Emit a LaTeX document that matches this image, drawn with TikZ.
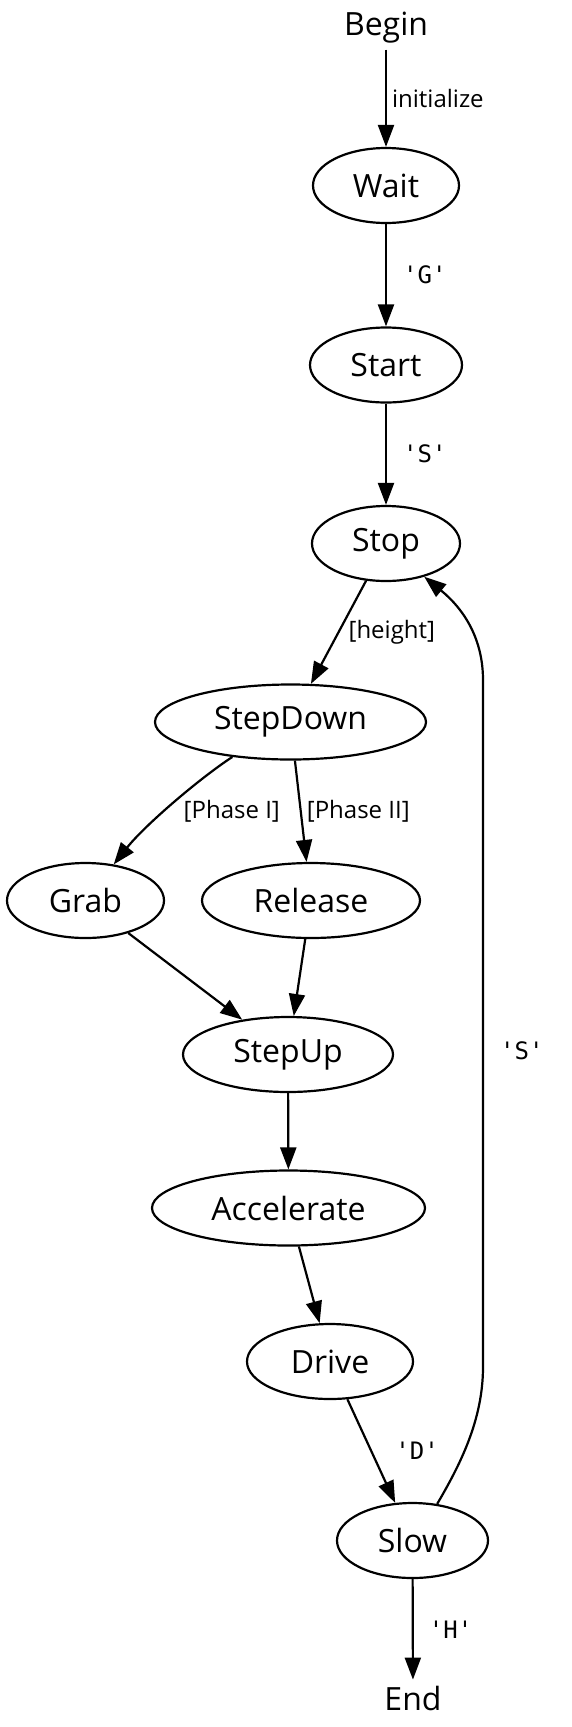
\documentclass[tikz,border=0pt]{standalone}
\usepackage{fontspec}
\setmainfont{Open Sans}
\setmonofont{DejaVu Sans Mono}
\usetikzlibrary{arrows.meta}
\usetikzlibrary{shapes.geometric}
\tikzstyle{every node}=[inner sep=0pt, font=\fontsize{32}{38}\selectfont]
\tikzstyle{state}=[ellipse, draw, minimum height=75pt]
\tikzstyle{plain}=[inner sep=5pt]
\tikzstyle{lbl}=[font=\fontsize{24}{29}\selectfont]
\tikzstyle{chr}=[font=\ttfamily\fontsize{24}{29}\selectfont]
\tikzset{edge/.style={-{Triangle[length=22pt,width=16pt]}}}

\begin{document}
\begin{tikzpicture}[x=1pt,y=-1pt,line width=2.2pt]
		\useasboundingbox (0,0) rectangle (572,1727);
		\node[plain] (begin) at (386,28) {Begin};
		\node[state, minimum width=146pt] (wait) at (386,185.5) {Wait};
		\node[state, minimum width=152pt] (start) at (386,365) {Start};
		\node[state, minimum width=148pt] (stop) at (386,543.5) {Stop};
		\node[state, minimum width=271pt] (stepdown) at (290.5,722) {StepDown};
		\node[state, minimum width=157pt] (grab) at (85.5,900.5) {Grab};
		\node[state, minimum width=218pt] (release) at (311,900.5) {Release};
		\node[state, minimum width=210pt] (stepup) at (288,1054.5) {StepUp};
		\node[state, minimum width=273pt] (accel) at (288.5,1208) {Accelerate};
		\node[state, minimum width=166pt] (drive) at (330,1361.5) {Drive};
		\node[state, minimum width=151pt] (slow) at (412.5,1540.5) {Slow};
		\node[plain] (end) at (413,1698) {End};

		\draw[edge] (begin) -- node[lbl, right=5pt] {initialize} (wait);
		\draw[edge] (wait) -- node[chr, right=16pt] {'G'} (start);
		\draw[edge] (start) -- node[chr, right=16pt] {'S'} (stop);
		\draw[edge] (stop) -- node[lbl, right=9pt] {[height]} (stepdown);
		\draw[edge] (stepdown.211) .. controls (200,778) and (145,825) .. node[lbl, right=10pt, yshift=-7pt] {[Phase I]} (grab.52);
		\draw[edge] (stepdown) -- node[lbl, right=5pt] {[Phase II]} (release);
		\draw[edge] (grab) -- (stepup);
		\draw[edge] (release) -- (stepup);
		\draw[edge] (stepup) -- (accel);
		\draw[edge] (accel) -- (drive);
		\draw[edge] (drive) -- node[chr, right=23pt] {'D'} (slow);
		\draw[edge] (slow) -- node[chr, right=15pt] {'H'} (end);
		\draw[edge] (slow.56) .. controls (460,1465) and (483,1420) .. (483,1367)
			-- node[chr, pos=0.46, right=16pt] {'S'} (483,680)
			.. controls (483,640) and (465,610) .. (stop.-41);
\end{tikzpicture}
\end{document}
